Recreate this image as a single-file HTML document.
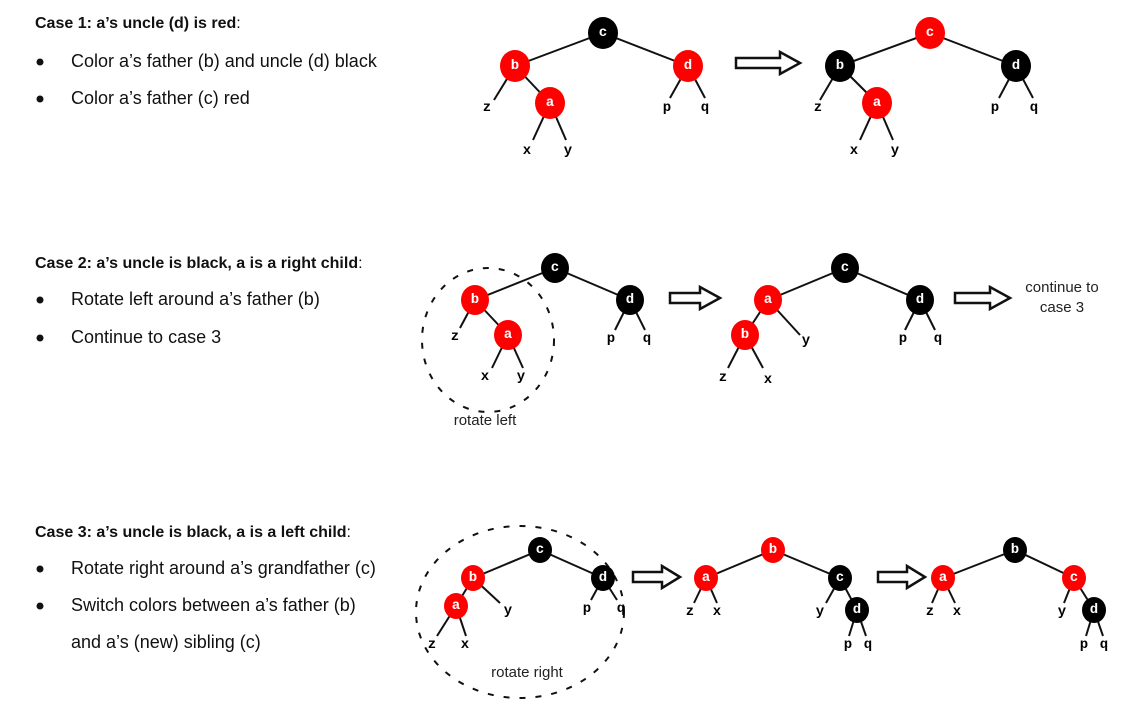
<!DOCTYPE html>
<html><head><meta charset="utf-8"><style>
body{margin:0;background:#fff;width:1140px;height:714px;overflow:hidden}
svg{position:absolute;left:0;top:0}
.t{font-family:"Liberation Sans",sans-serif;font-size:16px;fill:#111}
.bl{font-size:18px}
.b{font-weight:bold}
text.n{font-family:"Liberation Mono","Courier New","DejaVu Sans Mono",monospace;font-weight:bold;font-size:14px;text-anchor:middle;dominant-baseline:central}
.w{fill:#fff}
.h{font-family:"Liberation Sans",sans-serif;font-size:15px;fill:#222;text-anchor:middle}
line{stroke:#111;stroke-width:2}
.arr{fill:#fff;stroke:#111;stroke-width:2.5}
</style></head><body>
<svg width="1140" height="714" viewBox="0 0 1140 714">
<g class="t">
<text x="35" y="28" class="b">Case 1: a’s uncle (d) is red<tspan font-weight="normal">:</tspan></text>
<circle cx="40" cy="62" r="3.5"/><text x="71" y="67" class="bl">Color a’s father (b) and uncle (d) black</text>
<circle cx="40" cy="99" r="3.5"/><text x="71" y="104" class="bl">Color a’s father (c) red</text>
<text x="35" y="268" class="b">Case 2: a’s uncle is black, a is a right child<tspan font-weight="normal">:</tspan></text>
<circle cx="40" cy="300" r="3.5"/><text x="71" y="305" class="bl">Rotate left around a’s father (b)</text>
<circle cx="40" cy="338" r="3.5"/><text x="71" y="343" class="bl">Continue to case 3</text>
<text x="35" y="537" class="b">Case 3: a’s uncle is black, a is a left child<tspan font-weight="normal">:</tspan></text>
<circle cx="40" cy="569" r="3.5"/><text x="71" y="574" class="bl">Rotate right around a’s grandfather (c)</text>
<circle cx="40" cy="606" r="3.5"/><text x="71" y="611" class="bl">Switch colors between a’s father (b)</text>
<text x="71" y="648" class="bl">and a’s (new) sibling (c)</text>
</g>

<g font-family="Liberation Mono, monospace">
<!-- CASE 1 left -->
<g>
<line x1="603" y1="33" x2="515" y2="66"/><line x1="603" y1="33" x2="688" y2="66"/>
<line x1="515" y1="66" x2="550" y2="103"/><line x1="515" y1="66" x2="494" y2="100"/>
<line x1="550" y1="103" x2="533" y2="140"/><line x1="550" y1="103" x2="566" y2="140"/>
<line x1="688" y1="66" x2="670" y2="98"/><line x1="688" y1="66" x2="705" y2="98"/>
<ellipse cx="603" cy="33" rx="15" ry="16" fill="#000"/><text x="603" y="33" class="n w">c</text>
<ellipse cx="515" cy="66" rx="15" ry="16" fill="#f00"/><text x="515" y="66" class="n w">b</text>
<ellipse cx="688" cy="66" rx="15" ry="16" fill="#f00"/><text x="688" y="66" class="n w">d</text>
<ellipse cx="550" cy="103" rx="15" ry="16" fill="#f00"/><text x="550" y="103" class="n w">a</text>
<text x="487" y="108" class="n">z</text><text x="527" y="151" class="n">x</text><text x="568" y="151" class="n">y</text>
<text x="667" y="108" class="n">p</text><text x="705" y="108" class="n">q</text>
</g>
<path class="arr" d="M736 58 H780 V52 L800 63 L780 74 V68 H736 Z"/>
<!-- CASE 1 right -->
<g>
<line x1="930" y1="33" x2="840" y2="66"/><line x1="930" y1="33" x2="1016" y2="66"/>
<line x1="840" y1="66" x2="877" y2="103"/><line x1="840" y1="66" x2="820" y2="100"/>
<line x1="877" y1="103" x2="860" y2="140"/><line x1="877" y1="103" x2="893" y2="140"/>
<line x1="1016" y1="66" x2="999" y2="98"/><line x1="1016" y1="66" x2="1033" y2="98"/>
<ellipse cx="930" cy="33" rx="15" ry="16" fill="#f00"/><text x="930" y="33" class="n w">c</text>
<ellipse cx="840" cy="66" rx="15" ry="16" fill="#000"/><text x="840" y="66" class="n w">b</text>
<ellipse cx="1016" cy="66" rx="15" ry="16" fill="#000"/><text x="1016" y="66" class="n w">d</text>
<ellipse cx="877" cy="103" rx="15" ry="16" fill="#f00"/><text x="877" y="103" class="n w">a</text>
<text x="818" y="108" class="n">z</text><text x="854" y="151" class="n">x</text><text x="895" y="151" class="n">y</text>
<text x="995" y="108" class="n">p</text><text x="1034" y="108" class="n">q</text>
</g>

<!-- CASE 2 left -->
<ellipse cx="488" cy="340" rx="66" ry="72" fill="none" stroke="#111" stroke-width="2" stroke-dasharray="6,10"/>
<g>
<line x1="555" y1="268" x2="475" y2="300"/><line x1="555" y1="268" x2="630" y2="300"/>
<line x1="475" y1="300" x2="508" y2="335"/><line x1="475" y1="300" x2="460" y2="328"/>
<line x1="508" y1="335" x2="492" y2="368"/><line x1="508" y1="335" x2="523" y2="368"/>
<line x1="630" y1="300" x2="615" y2="330"/><line x1="630" y1="300" x2="645" y2="330"/>
<ellipse cx="555" cy="268" rx="14" ry="15" fill="#000"/><text x="555" y="268" class="n w">c</text>
<ellipse cx="475" cy="300" rx="14" ry="15" fill="#f00"/><text x="475" y="300" class="n w">b</text>
<ellipse cx="630" cy="300" rx="14" ry="15" fill="#000"/><text x="630" y="300" class="n w">d</text>
<ellipse cx="508" cy="335" rx="14" ry="15" fill="#f00"/><text x="508" y="335" class="n w">a</text>
<text x="455" y="337" class="n">z</text><text x="485" y="377" class="n">x</text><text x="521" y="377" class="n">y</text>
<text x="611" y="339" class="n">p</text><text x="647" y="339" class="n">q</text>
<text x="485" y="425" class="h">rotate left</text>
</g>
<path class="arr" d="M670 293 H700 V287 L720 298 L700 309 V303 H670 Z"/>
<!-- CASE 2 middle -->
<g>
<line x1="845" y1="268" x2="768" y2="300"/><line x1="845" y1="268" x2="920" y2="300"/>
<line x1="768" y1="300" x2="745" y2="335"/><line x1="768" y1="300" x2="800" y2="335"/>
<line x1="745" y1="335" x2="728" y2="368"/><line x1="745" y1="335" x2="763" y2="368"/>
<line x1="920" y1="300" x2="905" y2="330"/><line x1="920" y1="300" x2="935" y2="330"/>
<ellipse cx="845" cy="268" rx="14" ry="15" fill="#000"/><text x="845" y="268" class="n w">c</text>
<ellipse cx="768" cy="300" rx="14" ry="15" fill="#f00"/><text x="768" y="300" class="n w">a</text>
<ellipse cx="920" cy="300" rx="14" ry="15" fill="#000"/><text x="920" y="300" class="n w">d</text>
<ellipse cx="745" cy="335" rx="14" ry="15" fill="#f00"/><text x="745" y="335" class="n w">b</text>
<text x="806" y="341" class="n">y</text><text x="723" y="378" class="n">z</text><text x="768" y="380" class="n">x</text>
<text x="903" y="339" class="n">p</text><text x="938" y="339" class="n">q</text>
</g>
<path class="arr" d="M955 293 H990 V287 L1010 298 L990 309 V303 H955 Z"/>
<text x="1062" y="292" class="h">continue to</text><text x="1062" y="312" class="h">case 3</text>

<!-- CASE 3 left -->
<ellipse cx="520" cy="612" rx="104" ry="86" fill="none" stroke="#111" stroke-width="2" stroke-dasharray="6,10"/>
<g>
<line x1="540" y1="550" x2="473" y2="578"/><line x1="540" y1="550" x2="603" y2="578"/>
<line x1="473" y1="578" x2="456" y2="606"/><line x1="473" y1="578" x2="500" y2="603"/>
<line x1="456" y1="606" x2="437" y2="636"/><line x1="456" y1="606" x2="466" y2="636"/>
<line x1="603" y1="578" x2="591" y2="600"/><line x1="603" y1="578" x2="617" y2="600"/>
<ellipse cx="540" cy="550" rx="12" ry="13" fill="#000"/><text x="540" y="550" class="n w" font-size="12">c</text>
<ellipse cx="473" cy="578" rx="12" ry="13" fill="#f00"/><text x="473" y="578" class="n w" font-size="12">b</text>
<ellipse cx="603" cy="578" rx="12" ry="13" fill="#000"/><text x="603" y="578" class="n w" font-size="12">d</text>
<ellipse cx="456" cy="606" rx="12" ry="13" fill="#f00"/><text x="456" y="606" class="n w" font-size="12">a</text>
<text x="508" y="611" class="n" font-size="12">y</text><text x="432" y="645" class="n" font-size="12">z</text><text x="465" y="645" class="n" font-size="12">x</text>
<text x="587" y="609" class="n" font-size="12">p</text><text x="621" y="609" class="n" font-size="12">q</text>
<text x="527" y="677" class="h" font-size="14">rotate right</text>
</g>
<path class="arr" d="M633 572 H662 V566 L680 577 L662 588 V582 H633 Z"/>
<!-- CASE 3 middle -->
<g>
<line x1="773" y1="550" x2="706" y2="578"/><line x1="773" y1="550" x2="840" y2="578"/>
<line x1="706" y1="578" x2="694" y2="603"/><line x1="706" y1="578" x2="717" y2="603"/>
<line x1="840" y1="578" x2="826" y2="603"/><line x1="840" y1="578" x2="857" y2="610"/>
<line x1="857" y1="610" x2="849" y2="636"/><line x1="857" y1="610" x2="866" y2="636"/>
<ellipse cx="773" cy="550" rx="12" ry="13" fill="#f00"/><text x="773" y="550" class="n w" font-size="12">b</text>
<ellipse cx="706" cy="578" rx="12" ry="13" fill="#f00"/><text x="706" y="578" class="n w" font-size="12">a</text>
<ellipse cx="840" cy="578" rx="12" ry="13" fill="#000"/><text x="840" y="578" class="n w" font-size="12">c</text>
<ellipse cx="857" cy="610" rx="12" ry="13" fill="#000"/><text x="857" y="610" class="n w" font-size="12">d</text>
<text x="690" y="612" class="n" font-size="12">z</text><text x="717" y="612" class="n" font-size="12">x</text><text x="820" y="612" class="n" font-size="12">y</text>
<text x="848" y="645" class="n" font-size="12">p</text><text x="868" y="645" class="n" font-size="12">q</text>
</g>
<path class="arr" d="M878 572 H907 V566 L925 577 L907 588 V582 H878 Z"/>
<!-- CASE 3 right -->
<g>
<line x1="1015" y1="550" x2="943" y2="578"/><line x1="1015" y1="550" x2="1074" y2="578"/>
<line x1="943" y1="578" x2="932" y2="603"/><line x1="943" y1="578" x2="955" y2="603"/>
<line x1="1074" y1="578" x2="1064" y2="603"/><line x1="1074" y1="578" x2="1094" y2="610"/>
<line x1="1094" y1="610" x2="1086" y2="636"/><line x1="1094" y1="610" x2="1103" y2="636"/>
<ellipse cx="1015" cy="550" rx="12" ry="13" fill="#000"/><text x="1015" y="550" class="n w" font-size="12">b</text>
<ellipse cx="943" cy="578" rx="12" ry="13" fill="#f00"/><text x="943" y="578" class="n w" font-size="12">a</text>
<ellipse cx="1074" cy="578" rx="12" ry="13" fill="#f00"/><text x="1074" y="578" class="n w" font-size="12">c</text>
<ellipse cx="1094" cy="610" rx="12" ry="13" fill="#000"/><text x="1094" y="610" class="n w" font-size="12">d</text>
<text x="930" y="612" class="n" font-size="12">z</text><text x="957" y="612" class="n" font-size="12">x</text><text x="1062" y="612" class="n" font-size="12">y</text>
<text x="1084" y="645" class="n" font-size="12">p</text><text x="1104" y="645" class="n" font-size="12">q</text>
</g>
</g>
</svg>
</body></html>
